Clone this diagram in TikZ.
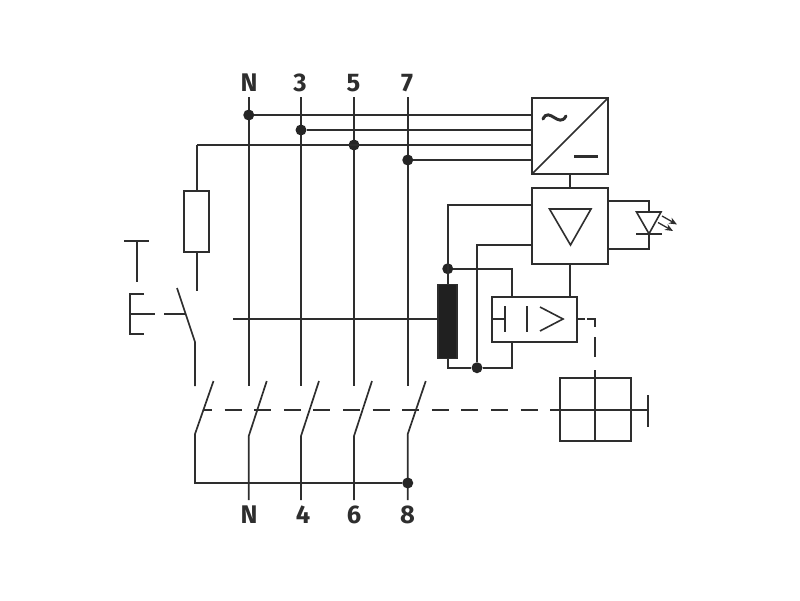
\documentclass[tikz,border=0pt]{standalone}
\usepackage{fontspec}
\setsansfont{Fira Sans}
\usetikzlibrary{arrows.meta,positioning}

\definecolor{wire}{HTML}{2E2E2E}
\tikzset{
  wireline/.style={draw=wire,line width=1.7pt},
  thinline/.style={draw=wire,line width=1.6pt},
  block/.style={draw=wire,line width=1.7pt,fill=white,inner sep=0pt,outer sep=0pt},
  junction/.style={circle,fill=wire!80!black,inner sep=0pt,minimum size=11pt},
  terminal/.style={font=\sffamily\bfseries\fontsize{25.5}{26}\selectfont,text=wire,inner sep=0pt},
}

\begin{document}
\begin{tikzpicture}[x=1pt,y=-1pt]
  \useasboundingbox (0,0) rectangle (800,600);

  % blocks
  \node[block,minimum width=76pt,minimum height=76pt] (conv) at (570,136) {};
  \node[block,minimum width=76pt,minimum height=76pt] (amp) at (570,226) {};
  \node[block,minimum width=85pt,minimum height=45pt] (relay) at (534.5,319.5) {};
  \node[block,minimum width=25pt,minimum height=61pt] (res) at (196.75,221.5) {};
  \node[block,fill=wire!70!black,minimum width=19pt,minimum height=74pt] (core) at (447.75,321.5) {};
  \node[block,minimum width=70.5pt,minimum height=63pt] (trip) at (595.5,409.5) {};

  % poles, top and bottom
  \foreach \name/\px/\lbl/\lblx/\blbl/\blblx/\cy/\ty in {
      n/248.75/N/249/N/249/436/386,
      c/301/3/300/4/303/436/386,
      e/354/5/353.5/6/354/436/386,
      g/407.75/7/407/8/407.5/434/386} {
    \node[terminal] (lbl\name) at (\lblx,83) {\lbl};
    \node[terminal] (blbl\name) at (\blblx,515) {\blbl};
    \coordinate (top\name) at (\px,97);
    \coordinate (up\name) at (\px,\ty);
    \coordinate (low\name) at (\px,\cy);
    \coordinate (bot\name) at (\px,500);
    \coordinate (blade\name) at (\px+18,381);
    \draw[wireline] (top\name) -- (up\name);
    \draw[wireline] (blade\name) -- (low\name) -- (bot\name);
  }

  % auxiliary pole and bus
  \coordinate (auxtop) at (213.5,381);
  \coordinate (auxlow) at (195,434);
  \coordinate (busl) at (195,483);
  \node[junction] (busdot) at (407.75,483) {};
  \draw[wireline] (auxtop) -- (auxlow) -- (busl) -- (busdot);

  % mains taps
  \node[junction] (tapn) at (248.75,115) {};
  \node[junction] (tapc) at (301,130) {};
  \node[junction] (tape) at (354,145) {};
  \node[junction] (tapg) at (407.75,160) {};
  \coordinate (corner) at (196.75,145);
  \draw[thinline] (tapn) -- (tapn -| conv.west);
  \draw[wireline] (tapc) -- (tapc -| conv.west);
  \draw[wireline] (corner) -- (tape -| conv.west);
  \draw[wireline] (tapg) -- (tapg -| conv.west);
  \draw[wireline] (corner) -- (res.north);

  % test button
  \coordinate (resend) at (196.75,291);
  \coordinate (swtop) at (177,288);
  \coordinate (swknee) at (195,342);
  \coordinate (swend) at (195,386);
  \coordinate (swarm) at (164,314);
  \coordinate (swhit) at (186,314);
  \draw[thinline] (res.south) -- (resend);
  \draw[wireline] (swtop) -- (swknee) -- (swend);
  \draw[thinline] (swarm) -- (swhit);
  \coordinate (tl) at (124,241);
  \coordinate (tr) at (149,241);
  \coordinate (tm) at (136.75,241);
  \coordinate (tb) at (136.75,282);
  \draw[thinline] (tl) -- (tr);
  \draw[thinline] (tm) -- (tb);
  \coordinate (ea) at (144,294);
  \coordinate (eb) at (130,294);
  \coordinate (ec) at (130,334);
  \coordinate (ed) at (144,334);
  \coordinate (em) at (130,314);
  \coordinate (ee) at (155,314);
  \draw[thinline] (ea) -- (eb) -- (ec) -- (ed);
  \draw[thinline] (em) -- (ee);

  % converter and amplifier
  \draw[thinline] (conv.south west) -- (conv.north east);
  \coordinate (tila) at (543,119);
  \coordinate (tilb) at (566,116);
  \draw[draw=wire,line width=3pt,line cap=round] (tila) .. controls (549,106) and (559,129) .. (tilb);
  \coordinate (mina) at (574,156);
  \coordinate (minb) at (598,156);
  \draw[draw=wire,line width=3pt] (mina) -- (minb);
  \draw[wireline] (conv.south) -- (amp.north);
  \draw[wireline] (amp.south) -- (amp.south |- relay.north);
  \coordinate (tria) at (549.5,209);
  \coordinate (trib) at (591,209);
  \coordinate (tric) at (570.5,245);
  \draw[thinline] (tria) -- (trib) -- (tric) -- cycle;

  % led
  \coordinate (leda) at (636.5,212);
  \coordinate (ledb) at (661,212);
  \coordinate (ledc) at (649,233.75);
  \coordinate (ledl) at (636,233.75);
  \coordinate (ledr) at (661.5,233.75);
  \coordinate (ledt) at (649,200.75);
  \coordinate (ledu) at (649,249);
  \draw[thinline] (leda) -- (ledb) -- (ledc) -- cycle;
  \draw[thinline] (ledl) -- (ledr);
  \draw[thinline] (amp.east |- ledt) -- (ledt) -- (leda -| ledt);
  \draw[thinline] (amp.east |- ledu) -- (ledu) -- (ledc);
  \coordinate (raya) at (662,216);
  \coordinate (rayb) at (677,224.5);
  \coordinate (rayc) at (658,222.5);
  \coordinate (rayd) at (673,231);
  \draw[draw=wire,line width=1.3pt,-{Stealth[length=8pt,width=6.5pt]}] (raya) -- (rayb);
  \draw[draw=wire,line width=1.3pt,-{Stealth[length=8pt,width=6.5pt]}] (rayc) -- (rayd);

  % sensing loop
  \node[junction] (senseA) at (447.75,268.75) {};
  \node[junction] (senseB) at (477,367.75) {};
  \coordinate (ampA) at (447.75,205);
  \coordinate (ampB) at (477,245);
  \coordinate (loopA) at (512,268.75);
  \coordinate (loopB) at (512,367.75);
  \coordinate (loopC) at (447.75,367.75);
  \coordinate (primary) at (233,319);
  \draw[thinline] (amp.west |- ampA) -- (ampA) -- (core.north);
  \draw[wireline] (amp.west |- ampB) -- (ampB) -- (senseB);
  \draw[thinline] (senseA) -- (loopA) -- (loopA |- relay.north);
  \draw[thinline] (core.south) -- (loopC) -- (senseB) -- (loopB) -- (loopB |- relay.south);
  \draw[thinline] (primary) -- (primary -| core.west);

  % relay
  \coordinate (rela) at (492,319);
  \coordinate (relb) at (505,319);
  \coordinate (relc) at (505,306);
  \coordinate (reld) at (505,332);
  \coordinate (rele) at (527,306);
  \coordinate (relf) at (527,332);
  \coordinate (relg) at (540,307);
  \coordinate (relh) at (563,319);
  \coordinate (reli) at (540,331);
  \draw[thinline] (rela) -- (relb);
  \draw[thinline] (relc) -- (reld);
  \draw[thinline] (rele) -- (relf);
  \draw[thinline] (relg) -- (relh) -- (reli);

  % trip unit and mechanical links
  \coordinate (tripup) at (595,370);
  \coordinate (tripl) at (553,410);
  \coordinate (tripr) at (648,410);
  \coordinate (tripa) at (648,395);
  \coordinate (tripb) at (648,427);
  \coordinate (linka) at (577,319);
  \coordinate (linkb) at (595,319);
  \coordinate (linkc) at (595,357);
  \coordinate (linkd) at (204,410);
  \draw[thinline] (tripup) -- (tripup |- trip.south);
  \draw[thinline] (tripl) -- (tripr);
  \draw[thinline] (tripa) -- (tripb);
  \draw[thinline,dash pattern=on 8pt off 2pt on 16pt off 10pt on 20pt off 13pt] (linka) -- (linkb) -- (linkc);
  \draw[thinline,dash pattern=on 17pt off 12.6pt,dash phase=9pt] (linkd) -- (tripl);
\end{tikzpicture}
\end{document}
